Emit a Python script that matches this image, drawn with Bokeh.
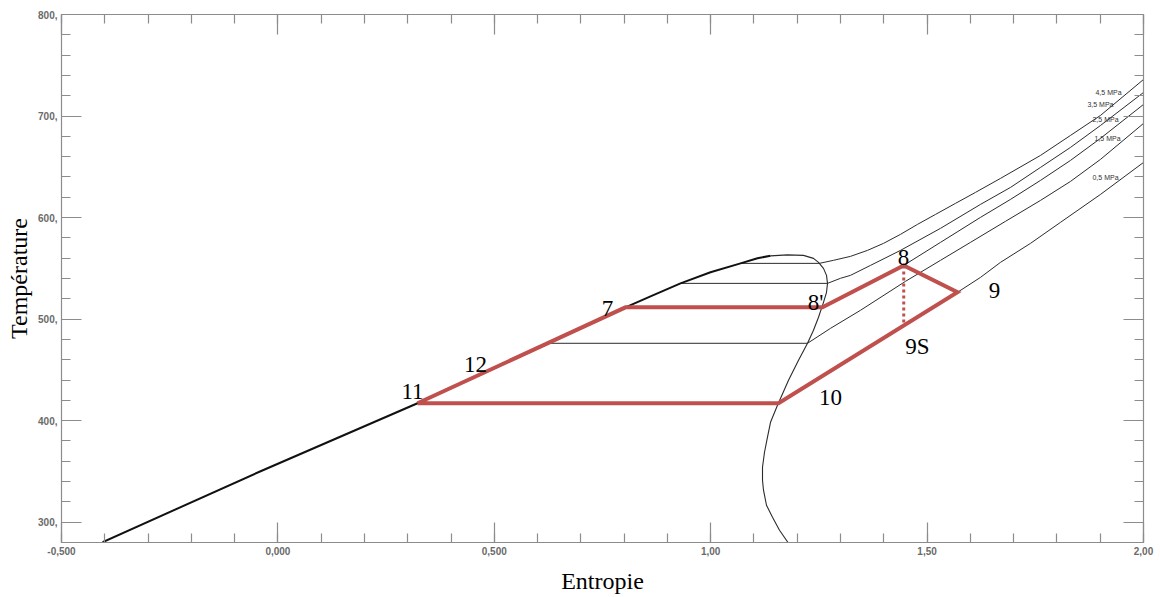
from bokeh.plotting import figure
from bokeh.models import Range1d, LinearAxis, FixedTicker
from bokeh.embed import file_html
from bokeh.resources import INLINE
from bokeh.core.properties import value

# ---------------- data ----------------
# saturated liquid line (entropy, temperature)
liquid_s = [-0.405, -0.040, 0.3226, 0.6252, 0.8031, 0.8609, 0.9302, 0.9995, 1.0689, 1.1081, 1.1382]
liquid_T = [280.3, 350.2, 417.1, 476.2, 511.6, 522.4, 535.2, 546.1, 554.9, 560.0, 562.3]
# saturated vapour line (from top of dome downwards)
vapor_s = [1.1382, 1.1774, 1.2144, 1.2375, 1.2491, 1.2606, 1.2676, 1.2699, 1.2676, 1.2606, 1.2491,
           1.2375, 1.2237, 1.2029, 1.1798, 1.1543, 1.1382, 1.1312, 1.1243, 1.1197, 1.1197, 1.1220,
           1.1289, 1.1428, 1.1590, 1.1798]
vapor_T = [562.3, 563.3, 562.8, 559.8, 555.9, 550.0, 543.1, 535.2, 526.4, 516.5, 501.8,
           489.0, 476.2, 459.5, 439.8, 415.2, 398.4, 383.7, 368.9, 354.1, 341.3, 331.5,
           316.7, 304.9, 292.1, 279.3]

# isobars: two-phase plateau + superheated branch
iso_names = ["4,5 MPa", "3,5 MPa", "2,5 MPa", "1,5 MPa", "0,5 MPa"]
iso_45_s = [1.0689, 1.2510, 1.2837, 1.3230, 1.3623, 1.3993, 1.4386, 1.4778, 1.5194, 1.5656,
            1.6118, 1.6696, 1.7620, 1.8313, 1.9006, 2.0]
iso_45_T = [554.9, 554.9, 557.9, 561.8, 567.7, 574.6, 583.5, 593.3, 603.1, 614.0,
            624.8, 638.6, 661.2, 680.9, 700.6, 736.0]
iso_35_s = [0.9302, 1.2699, 1.2999, 1.3230, 1.3692, 1.4386, 1.5310, 1.6234, 1.6927, 1.7620,
            1.8313, 1.9006, 2.0]
iso_35_T = [535.2, 535.2, 540.2, 543.1, 552.9, 567.7, 589.4, 613.0, 629.7, 649.4,
            669.1, 690.7, 723.2]
iso_25_s = [0.8031, 1.2583, 1.4460, 1.5310, 1.6234, 1.6927, 1.7620, 1.8313, 1.9006, 2.0]
iso_25_T = [511.6, 511.6, 552.9, 575.6, 600.2, 617.9, 636.6, 656.3, 678.0, 711.4]
iso_15_s = [0.6252, 1.2237, 1.2768, 1.3461, 1.4501, 1.5310, 1.6003, 1.6811, 1.7620, 1.8313,
            1.9006, 2.0]
iso_15_T = [476.2, 476.2, 490.9, 508.7, 537.2, 557.9, 575.6, 596.3, 616.9, 635.6,
            657.3, 692.7]
iso_05_s = [0.3226, 1.1567, 1.5702, 1.6234, 1.6696, 1.7389, 1.8082, 1.9006, 2.0]
iso_05_T = [417.1, 417.1, 526.4, 541.1, 555.9, 574.6, 595.3, 622.8, 654.3]
iso_label_s = [1.9191, 1.9006, 1.9122, 1.9168, 1.9122]
iso_label_T = [723.2, 711.4, 696.7, 678.0, 639.6]

# cycle states 11 -> 7 -> 8' -> 8 -> 9 -> 10 -> 11
cycle_names = ["11", "7", "8'", "8", "9", "10", "11"]
cycle_s = [0.3226, 0.8031, 1.2583, 1.4460, 1.5702, 1.1567, 0.3226]
cycle_T = [417.1, 511.6, 511.6, 552.9, 526.4, 417.1, 417.1]
# isentropic expansion 8 -> 9S
isen_s = [1.4460, 1.4460]
isen_T = [552.9, 493.6]

# point labels
pt_text = ["7", "8'", "8", "9", "9S", "10", "11", "12"]
pt_s = [0.7616, 1.2421, 1.4455, 1.6557, 1.4778, 1.2768, 0.3110, 0.4566]
pt_T = [510.6, 516.5, 560.8, 528.3, 473.2, 423.0, 428.9, 455.5]

# axes ticks
x_major = [-0.5, 0.0, 0.5, 1.0, 1.5, 2.0]
x_major_labels = ["-0,500", "0,000", "0,500", "1,00", "1,50", "2,00"]
x_minor = [round(-0.5 + 0.1 * i, 2) for i in range(26)]
y_major = [300, 400, 500, 600, 700, 800]
y_major_labels = ["300,", "400,", "500,", "600,", "700,", "800,"]
y_minor = list(range(280, 801, 20))

# ---------------- figure ----------------
p = figure(width=1160, height=597, x_range=Range1d(-0.5, 2.0), y_range=Range1d(280, 800),
           output_backend="svg", toolbar_location=None,
           min_border_left=61, min_border_right=17, min_border_top=14, min_border_bottom=55)
p.grid.visible = False
p.outline_line_color = None
p.background_fill_color = "white"
p.border_fill_color = "white"

AX = "#8c8c8c"


def style_axis(ax):
    ax.axis_line_color = AX
    ax.axis_line_width = 1.2
    ax.major_tick_line_color = AX
    ax.minor_tick_line_color = AX
    ax.major_tick_line_width = 1.2
    ax.minor_tick_line_width = 1.2
    ax.major_tick_in = 20
    ax.major_tick_out = 0
    ax.minor_tick_in = 9
    ax.minor_tick_out = 0
    ax.major_label_text_font = "Liberation Sans"
    ax.major_label_text_font_size = "10px"
    ax.major_label_text_font_style = "bold"
    ax.major_label_text_color = "#6a6a6a"


xb = p.xaxis[0]
xb.ticker = FixedTicker(ticks=x_major, minor_ticks=x_minor)
xb.major_label_overrides = {float(k): v for k, v in zip(x_major, x_major_labels)}
style_axis(xb)
xb.major_label_standoff = 4
xb.axis_label = "Entropie"
xb.axis_label_text_font = "Liberation Serif"
xb.axis_label_text_font_size = "24px"
xb.axis_label_text_font_style = "normal"
xb.axis_label_text_color = "black"
xb.axis_label_standoff = 10

yl = p.yaxis[0]
yl.ticker = FixedTicker(ticks=y_major, minor_ticks=y_minor)
yl.major_label_overrides = {k: v for k, v in zip(y_major, y_major_labels)}
style_axis(yl)
yl.major_label_standoff = 4
yl.axis_label = "Température"
yl.axis_label_text_font = "Liberation Serif"
yl.axis_label_text_font_size = "24px"
yl.axis_label_text_font_style = "normal"
yl.axis_label_text_color = "black"
yl.axis_label_standoff = 3

xt = LinearAxis(ticker=FixedTicker(ticks=x_major, minor_ticks=x_minor))
style_axis(xt)
xt.major_label_overrides = {float(k): "" for k in x_minor}
xt.major_label_standoff = 0
p.add_layout(xt, "above")

yr = LinearAxis(ticker=FixedTicker(ticks=y_major, minor_ticks=y_minor))
style_axis(yr)
yr.major_label_overrides = {k: "" for k in y_minor}
yr.major_label_standoff = 0
p.add_layout(yr, "right")

# ---------------- curves ----------------
LINE = "#2b2b2b"
for s_, T_ in [(iso_45_s, iso_45_T), (iso_35_s, iso_35_T), (iso_25_s, iso_25_T),
               (iso_15_s, iso_15_T), (iso_05_s, iso_05_T)]:
    p.line(s_, T_, line_color=LINE, line_width=1, line_join="round")

p.line(liquid_s, liquid_T, line_color="#111111", line_width=2, line_join="round")
p.line(vapor_s, vapor_T, line_color=LINE, line_width=1.1, line_join="round")

p.text(x=iso_label_s, y=iso_label_T, text=iso_names, text_font=value("Liberation Sans"),
       text_font_size="7px", text_color="#333333", text_align="center", text_baseline="middle")

# cycle
RED = "#c0504d"
p.line(cycle_s, cycle_T, line_color=RED, line_width=4, line_join="miter")
p.line(isen_s, isen_T, line_color=RED, line_width=3, line_dash="3 3")

p.text(x=pt_s, y=pt_T, text=pt_text, text_font=value("Liberation Serif"),
       text_font_size="23px", text_color="black", text_align="center", text_baseline="middle")

open("out.html", "w").write(file_html(p, INLINE))
